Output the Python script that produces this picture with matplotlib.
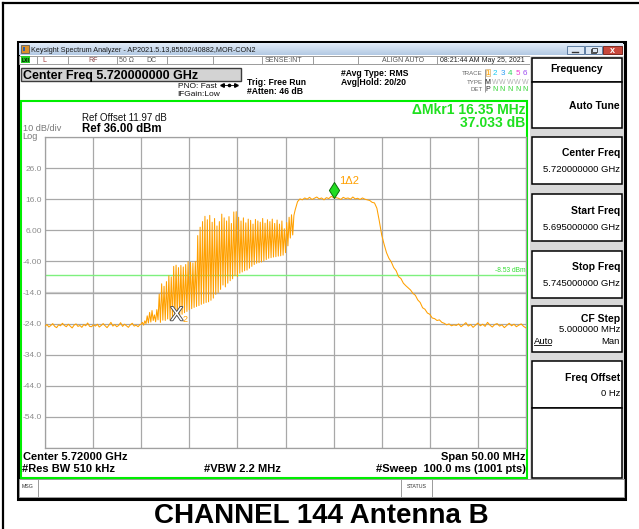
import numpy as np
import matplotlib.pyplot as plt
from matplotlib.patches import Rectangle
from matplotlib.path import Path
import matplotlib.patheffects as pe

plt.rcParams['font.family'] = ['Liberation Sans', 'DejaVu Sans']

# sweep setup
center_ghz = 5.72
span_mhz = 50.0
ref_level = 36.0
db_per_div = 10.0
display_line = -8.53

# trace levels (dBm); frequency pieces given in MHz from the start of the sweep
floor_low_dbm = [
    -24.8, -24.3, -25.1, -24.6, -24.0, -24.9, -25.3, -24.4, -24.7, -23.9,
    -24.6, -25.0, -24.2, -24.8, -25.4, -24.5, -24.1, -24.9, -24.6, -25.2,
    -24.3, -24.7, -23.8, -24.9, -25.0, -24.4, -24.8, -24.2, -25.1, -24.6,
    -24.0, -24.7, -25.3, -24.5, -23.6, -24.8, -24.3, -25.0, -24.6, -23.7,
    -24.9, -24.2, -24.7, -25.2, -24.4, -23.9, -24.8, -24.5, -25.0, -24.3,
]
burst_dbm = [
    -24.2, -23.6, -24.5, -23.1, -24.0, -21.5, -23.8, -20.4, -23.5, -19.8,
    -23.0, -21.2, -23.4, -19.5, -22.8, -14.5, -23.6, -11.2, -22.9, -12.0,
    -23.0, -10.5, -22.5, -8.6, -22.8, -9.0, -22.3, -5.6, -22.0, -5.2,
    -21.6, -6.0, -21.2, -5.3, -21.0, -5.8, -20.5, -5.0, -20.1, -4.1,
    -19.6, -4.3, -19.2, -4.5, -18.8, -4.0, -18.5, 4.3, -18.2, 7.0,
    -17.8, 8.8, -17.5, 10.5, -17.2, 9.4, -17.0, 10.8, -16.5, 8.6,
    -15.8, 9.8, -14.6, 7.4, -14.0, 8.8, -13.0, 11.2, -11.6, 10.0,
    -12.2, 9.0, -11.0, 10.4, -10.2, 8.2, -9.6, 11.9, -8.6, 12.0,
    -8.9, 10.2, -7.8, 9.0, -7.4, 10.0, -7.0, 8.4, -6.8, 9.6,
    -6.2, 9.2, -5.6, 8.0, -5.0, 9.5, -4.6, 9.0, -4.4, 8.6,
    -4.2, 9.8, -3.8, 8.3, -3.4, 9.4, -3.0, 8.8, -2.8, 9.6,
    -2.6, 8.2, -2.5, 9.3, -2.3, 8.0, -2.2, 9.0, -2.0, 6.5,
    -1.2, 8.5, 1.0, 10.2, 3.5, 11.0, 4.5, 10.8, 12.5,
]
top_dbm = [
    15.2, 16.1, 15.8, 16.4, 16.0, 16.6, 15.9, 16.3, 16.7, 16.1,
    16.4, 15.8, 16.5, 16.2, 16.9, 16.5, 16.5, 16.3, 15.9, 16.6,
    16.2, 16.4, 16.0, 16.7, 16.1, 16.3, 15.9, 16.4, 16.0, 15.8,
    15.6, 15.0,
]
skirt_dbm = [
    14.8, 13.1, 9.0, 4.5, 1.5, -1.2, -3.0, -4.2, -6.0, -7.0,
    -8.9, -9.5, -11.0, -11.8, -12.5, -13.2, -14.3, -14.9, -16.4, -17.2,
    -18.9, -19.4, -20.6, -21.0, -22.2, -22.4, -23.0, -22.8, -23.6, -23.9,
    -24.4, -24.1, -24.7, -24.4,
]
floor_high_dbm = [
    -24.6, -24.1, -25.0, -24.4, -23.7, -24.8, -24.3, -25.2, -24.5, -23.8,
    -24.7, -24.2, -24.9, -23.6, -24.5, -25.1, -24.3, -24.0, -24.8, -24.4,
    -25.3, -24.6, -23.9, -24.7, -24.2, -25.0, -24.5, -24.1, -24.9, -25.4,
]

# marker 1 and delta to marker 2
mkr1_ghz = 5.72504
mkr1_dbm = 16.5
delta_mhz = 16.35
delta_db = 37.033

softkeys = [
    ("Center Freq", "5.720000000 GHz"),
    ("Start Freq", "5.695000000 GHz"),
    ("Stop Freq", "5.745000000 GHz"),
]
trace_digits = ["1", "2", "3", "4", "5", "6"]
trace_colors = ["#ffa000", "#19c8f0", "#2a9cf5", "#2fd35a", "#f03cd2", "#9b4cf0"]

start_ghz = center_ghz - span_mhz / 2000
stop_ghz = center_ghz + span_mhz / 2000

pieces = [
    (0.0, 9.875, floor_low_dbm),
    (10.0, 26.0, burst_dbm),
    (26.25, 34.0, top_dbm),
    (34.25, 42.5, skirt_dbm),
    (42.75, 50.0, floor_high_dbm),
]
freq = np.concatenate([np.linspace(a, b, len(v)) for a, b, v in pieces])
level = np.concatenate([v for _, _, v in pieces])
freq_ghz = start_ghz + freq / 1000

W, H = 639, 529
fig = plt.figure(figsize=(W / 100, H / 100), dpi=100)
bg = fig.add_axes([0, 0, 1, 1])
bg.axis('off')


def box(x0, y0, x1, y1, fc='none', ec='none', lw=1.0, z=1):
    bg.add_patch(Rectangle((x0, y0), x1 - x0, y1 - y0, facecolor=fc,
                           edgecolor=ec, linewidth=lw, zorder=z))


def put(x, y, s, size, ha='left', color='black', weight='normal', **kw):
    bg.text(x, y, s, fontsize=size, ha=ha, va='baseline', color=color,
            fontweight=weight, **kw)


def vline(x, y0, y1, color='#9a9a9a', lw=0.7):
    bg.plot([x, x], [y0, y1], color=color, lw=lw, solid_capstyle='butt')


# page border and window frame
bg.plot([3, 3], [3, H], color='black', lw=1.6)
bg.plot([3, W], [3, 3], color='black', lw=1.6)
box(17.5, 41.5, 624.5, 498.5, fc='white', ec='black', lw=2.2)

# title bar
grad = np.linspace(0, 1, 20)[:, None]
bg.imshow(grad, cmap=plt.matplotlib.colors.LinearSegmentedColormap.from_list(
    'tb', ['#e1ebf7', '#b4cae4']), extent=(19, 623, 55, 43), aspect='auto', zorder=1)
box(21, 45, 28.5, 53, fc='#d9902c', ec='#4a4a4a', lw=0.5, z=2)
box(22.5, 47, 25, 51, fc='#2f5fa8', z=3)
put(31, 52, "Keysight Spectrum Analyzer - AP2021.5.13,85502/40882,MOR-CON2", 5.2, color='#1a1a1a')
box(566.5, 46, 583.5, 54, fc='#dce7f4', ec='#5f7ea3', lw=0.7, z=2)
bg.plot([572, 578], [51.5, 51.5], color='#333', lw=1.0)
box(585, 46, 601.5, 54, fc='#dce7f4', ec='#5f7ea3', lw=0.7, z=2)
box(590.5, 48.5, 595.5, 52.5, ec='#333', lw=0.6, z=3)
box(592, 47.5, 597, 51.5, fc='#dce7f4', ec='#333', lw=0.6, z=3)
box(603, 46, 621.5, 54, fc='#c8473b', ec='#7a2a22', lw=0.7, z=2)
bg.text(612.2, 50.2, 'x', fontsize=6.5, ha='center', va='center', color='white', fontweight='bold')

# status row
box(19, 55.5, 529.5, 63.5, fc='white', ec='#9a9a9a', lw=0.7)
box(20.5, 56, 30, 63, fc='#25cc25')
put(21.3, 61.6, 'LXI', 3.6, weight='bold')
for x in [36.7, 68.3, 117, 166.7, 213, 261.7, 312.7, 358.3, 436.7]:
    vline(x, 55.5, 63.5)
put(42.7, 61.8, 'L', 5, color='#a03a3a')
put(88.3, 61.8, 'RF', 5, color='#8a4a4a')
put(119.3, 61.8, '50 Ω', 5, color='#555555')
put(146.7, 61.8, 'DC', 5, color='#555555')
put(265, 61.8, 'SENSE:INT', 5, color='#555555')
put(381.7, 61.8, 'ALIGN AUTO', 5, color='#555555')
put(440, 61.8, '08:21:44 AM May 25, 2021', 5, color='#222222')

# header
box(21, 68, 241, 80.5, fc='#d3d3d3', ec='#3c3c3c', lw=1.0)
put(23, 78.8, "Center Freq 5.720000000 GHz", 9, weight='bold')
put(177.7, 88, 'PNO: Fast', 6.0, color='#111111')
put(177.7, 96.5, 'IFGain:Low', 6.0, color='#111111')
bg.plot([222, 236], [85, 85], color='black', lw=0.6)
bg.plot([222], [85], marker='<', ms=2.6, color='black')
bg.plot([236], [85], marker='>', ms=2.6, color='black')
bg.plot([229], [85], marker='o', ms=1.6, color='black')
put(246.7, 85, 'Trig: Free Run', 6.2, weight='bold')
put(246.7, 93.5, '#Atten: 46 dB', 6.2, weight='bold')
put(340.7, 76, '#Avg Type: RMS', 6.2, weight='bold')
put(340.7, 85, 'Avg|Hold: 20/20', 6.2, weight='bold')

put(482.7, 75, 'TRACE', 4.4, ha='right', color='#666666')
put(482.7, 83.5, 'TYPE', 4.4, ha='right', color='#666666')
put(482.7, 91, 'DET', 4.4, ha='right', color='#666666')
vline(484.8, 68.5, 92, color='#888888', lw=0.6)
digit_x = [487.5, 495, 502.5, 510, 517.5, 525]
box(485.8, 68.8, 490.2, 76.2, fc='#fff6e0', ec='#d8b070', lw=0.5)
for x, d, c in zip(digit_x, trace_digits, trace_colors):
    put(x, 75.3, d, 5.8, ha='center', color=c)
put(digit_x[0], 83.5, 'M', 5.0, ha='center', color='#222222')
put(digit_x[0], 91, 'P', 5.0, ha='center', color='#222222')
for x in digit_x[1:]:
    put(x, 83.5, 'W', 5.0, ha='center', color='#b0b0b0')
    put(x, 91, 'N', 5.0, ha='center', color='#2fd32f')

# green display frame and annotation text
box(21, 101, 527, 478, ec='#00ee00', lw=1.5, z=5)
put(81.7, 121.3, 'Ref Offset 11.97 dB', 7, color='#111111')
put(81.7, 131.5, f'Ref {ref_level:.2f} dBm', 8.3, weight='bold')
put(22.7, 130.8, f'{db_per_div:.0f} dB/div', 6.6, color='#7a7a7a')
put(22.7, 139.3, 'Log', 6.6, color='#7a7a7a')
put(525.7, 114, f'ΔMkr1 {delta_mhz:.2f} MHz', 10, ha='right', color='#1fe01f', weight='bold')
put(525.7, 127, f'{delta_db:.3f} dB', 10, ha='right', color='#1fe01f', weight='bold')
put(22.7, 460.5, f'Center {center_ghz:.5f} GHz', 8, weight='bold')
put(21.7, 472.3, '#Res BW 510 kHz', 8, weight='bold')
put(204, 472.3, '#VBW 2.2 MHz', 8, weight='bold')
put(525.7, 460.5, f'Span {span_mhz:.2f} MHz', 8, ha='right', weight='bold')
put(525.7, 472.3, '#Sweep  100.0 ms (1001 pts)', 8, ha='right', weight='bold')

# message bar
box(19, 479, 623.5, 496.5, fc='white', ec='#9a9a9a', lw=0.7)
put(22, 488.5, 'MSG', 3.8, color='#333333')
vline(38, 479, 496.5)
vline(401, 479, 496.5)
vline(432, 479, 496.5)
put(416.5, 488.5, 'STATUS', 3.8, ha='center', color='#333333')

# softkey panel
box(529.5, 56, 623.5, 478.5, fc='#d9d9d9')
box(532, 57.5, 622, 81.5, fc='white', ec='black', lw=1.1, z=2)
bg.text(577, 69.5, 'Frequency', fontsize=7.5, ha='center', va='center', fontweight='bold')
box(532, 81.5, 622, 128, fc='white', ec='black', lw=1.1, z=2)
put(620, 108.7, 'Auto Tune', 7.5, ha='right', weight='bold')
for top, (name, val) in zip([137, 194, 251], softkeys):
    box(532, top, 622, top + 47, fc='white', ec='black', lw=1.1, z=2)
    put(620, top + 19.5, name, 7.5, ha='right', weight='bold')
    put(620, top + 35.5, val, 6.8, ha='right')
box(532, 306, 622, 352, fc='white', ec='black', lw=1.1, z=2)
put(620, 321.5, 'CF Step', 7.5, ha='right', weight='bold')
put(620, 332.5, '5.000000 MHz', 6.8, ha='right')
put(533.5, 343.5, 'Auto', 6.8, ha='left')
bg.plot([533.5, 551], [345, 345], color='black', lw=0.6)
put(620, 343.5, 'Man', 6.8, ha='right')
box(532, 361, 622, 408, fc='white', ec='black', lw=1.1, z=2)
put(620, 381.3, 'Freq Offset', 7.5, ha='right', weight='bold')
put(620, 396.5, '0 Hz', 6.8, ha='right')
box(532, 408, 622, 477.5, fc='white', ec='black', lw=1.1, z=2)

put(320.9, 523.3, 'CHANNEL 144 Antenna B', 20, ha='center', weight='bold')

bg.set_xlim(0, W)
bg.set_ylim(H, 0)

# spectrum graticule
ax = fig.add_axes([45 / W, 1 - 448 / H, 481 / W, 311 / H])
ax.set_xlim(start_ghz, stop_ghz)
bottom = ref_level - 10 * db_per_div
ax.set_ylim(bottom, ref_level)
ax.set_xticks(np.linspace(start_ghz, stop_ghz, 11))
levels = ref_level - db_per_div * np.arange(11)
labels = []
for i, v in enumerate(levels):
    if i == 0 or i == 10:
        labels.append('')
    elif abs(v) >= 10:
        labels.append(f'{v:.1f}')
    else:
        labels.append(f'{v:.2f}')
ax.set_yticks(levels)
ax.set_yticklabels(labels)
ax.tick_params(length=0, labelbottom=False)
ax.tick_params(axis='y', pad=2.4, labelsize=6, labelcolor='#8c8c8c')
ax.grid(True, color='#a8a8a8', lw=0.9)
ax.axhline(-14, color='#d2d2d2', lw=1.6, zorder=1.5)
for s in ax.spines.values():
    s.set_color('#a0a0a0')
    s.set_linewidth(0.9)

ax.axhline(display_line, color='#7ef07e', lw=1.0, zorder=2)
ax.annotate(f'{display_line:.2f} dBm', xy=(1, display_line), xycoords=('axes fraction', 'data'),
            xytext=(-0.3, 1.3), textcoords='offset points', ha='right', va='bottom',
            fontsize=4.8, color='#33dd33')

ax.plot(freq_ghz, level, color='#ffa000', lw=0.75, zorder=3)

# marker 1 (diamond sits on the trace) and marker 2 from the delta readout
diamond = Path([(0, 0), (-0.32, 0.5), (0, 1), (0.32, 0.5), (0, 0)],
               [Path.MOVETO, Path.LINETO, Path.LINETO, Path.LINETO, Path.CLOSEPOLY])
ax.plot([mkr1_ghz], [mkr1_dbm], marker=diamond, ms=23, mfc='#22dd22', mec='#0b6e0b',
        mew=0.7, zorder=6)
ax.annotate('1Δ2', xy=(mkr1_ghz, mkr1_dbm), xytext=(3.8, 9.6), textcoords='offset points',
            ha='left', va='baseline', fontsize=8, color='#ffa000', zorder=6)

mkr2_ghz = mkr1_ghz - delta_mhz / 1000
mkr2_dbm = mkr1_dbm - delta_db
ax.annotate('X', xy=(mkr2_ghz, mkr2_dbm), xytext=(0, -5.4), textcoords='offset points',
            ha='center', va='baseline', fontsize=14, color='white', zorder=6,
            path_effects=[pe.withStroke(linewidth=1.3, foreground='#4a4a4a')])
ax.annotate('2', xy=(mkr2_ghz, mkr2_dbm), xytext=(4.4, -6.7), textcoords='offset points',
            ha='left', va='baseline', fontsize=6.5, color='#ffa000', zorder=6)

fig.savefig('out.png', dpi=100)
